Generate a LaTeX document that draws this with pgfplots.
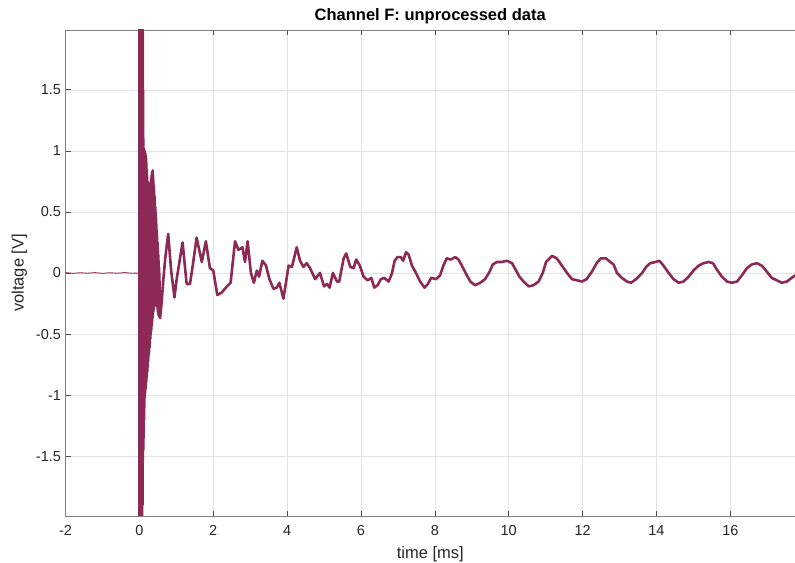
\documentclass[border=0pt]{standalone}
\usepackage{fontspec}
\setmainfont{Liberation Sans}
\usepackage{pgfplots}
\pgfplotsset{compat=1.18}
\definecolor{trace}{RGB}{140,41,84}
\definecolor{axgray}{RGB}{128,128,128}
\definecolor{txt}{RGB}{38,38,38}
\begin{document}
\begin{tikzpicture}
\begin{axis}[
  name=ax,
  width=729.5pt, height=486pt, scale only axis,
  xmin=-2, xmax=17.75, ymin=-1.99, ymax=1.99,
  xtick={-2,0,2,4,6,8,10,12,14,16},
  ytick={-1.5,-1,-0.5,0,0.5,1,1.5},
  axis y line*=left,
  axis x line*=box,
  xtick pos=both,
  grid=major,
  major grid style={draw=black!11, line width=0.6pt},
  tick align=inside,
  major tick length=5pt,
  axis line style={draw=axgray, line width=0.7pt},
  every tick/.style={draw=black!70, line width=0.7pt},
  tick label style={font=\fontsize{14.5}{15}\selectfont, text=txt},
  xticklabel style={yshift=-6pt},
  yticklabel style={xshift=-1pt},
  /pgf/number format/assume math mode=true,
  xlabel={time [ms]}, ylabel={voltage [V]},
  label style={font=\fontsize{16.5}{17}\selectfont, text=txt},
  xlabel style={yshift=-4pt},
  ylabel style={yshift=2pt},
  title={Channel F: unprocessed data},
  title style={font=\bfseries\fontsize{16.5}{17}\selectfont, yshift=-3pt},
  clip=true,
]
% pre-trigger baseline
\addplot[trace, line width=0.9pt] coordinates {
(-2.0,0.003) (-1.8,-0.003) (-1.6,0.002) (-1.4,-0.002) (-1.2,0.003) (-1.0,-0.003)
(-0.8,0.002) (-0.6,-0.002) (-0.4,0.003) (-0.2,-0.002) (0.0,0.0)
};
% main trace
\addplot[trace, line width=2.6pt, line join=round] coordinates {
(0.000,2.5) (0.005,-2.5) (0.010,2.5) (0.015,-2.5) (0.020,2.5) (0.025,-2.5) (0.030,2.5) (0.035,-2.5)
(0.040,2.5) (0.045,-2.5) (0.050,2.5) (0.055,-2.5) (0.060,2.5) (0.065,-2.5) (0.070,2.5) (0.075,-2.5)
(0.080,2.3) (0.085,-1.9) (0.090,2.0) (0.095,-1.55) (0.100,1.5) (0.105,-1.45) (0.110,1.1) (0.115,-1.35)
(0.12,1.02) (0.125,-1.2) (0.13,1.01) (0.135,-1.1) (0.14,1.00) (0.145,-1.02) (0.15,0.99) (0.155,-0.98)
(0.16,0.98) (0.165,-0.95) (0.17,0.96) (0.175,-0.92) (0.18,0.94) (0.185,-0.89) (0.19,0.90) (0.195,-0.86)
(0.20,0.85) (0.205,-0.84) (0.21,0.80) (0.215,-0.81) (0.22,0.75) (0.225,-0.77) (0.23,0.72) (0.235,-0.73)
(0.24,0.69) (0.245,-0.70) (0.25,0.70) (0.255,-0.67) (0.26,0.72) (0.265,-0.64) (0.27,0.69) (0.275,-0.61)
(0.28,0.66) (0.285,-0.58) (0.29,0.70) (0.295,-0.54) (0.30,0.74) (0.305,-0.51) (0.31,0.76) (0.315,-0.48)
(0.32,0.78) (0.325,-0.46) (0.33,0.80) (0.335,-0.43) (0.34,0.82) (0.345,-0.40) (0.35,0.83) (0.355,-0.37)
(0.36,0.84) (0.365,-0.34) (0.37,0.80) (0.375,-0.32) (0.38,0.76) (0.385,-0.30) (0.39,0.72) (0.395,-0.28)
(0.40,0.68) (0.405,-0.27) (0.41,0.63) (0.415,-0.25) (0.42,0.58) (0.425,-0.23) (0.43,0.54) (0.435,-0.22)
(0.44,0.50) (0.445,-0.22) (0.45,0.45) (0.455,-0.23) (0.46,0.40) (0.465,-0.24) (0.47,0.35) (0.475,-0.26)
(0.48,0.30) (0.485,-0.28) (0.49,0.25) (0.495,-0.30) (0.50,0.20) (0.505,-0.32) (0.51,0.15) (0.515,-0.34)
(0.52,0.10) (0.525,-0.35) (0.53,0.05) (0.535,-0.36) (0.54,0.0) (0.56,-0.37)
(0.60,-0.25) (0.65,-0.05) (0.70,0.12) (0.78,0.32) (0.86,0.02) (0.95,-0.20) (1.01,-0.05)
(1.17,0.25) (1.28,-0.09) (1.37,-0.09) (1.44,0.05) (1.55,0.29) (1.69,0.09) (1.80,0.26)
(1.91,0.04) (2.00,0.02) (2.11,-0.18) (2.23,-0.16) (2.37,-0.11) (2.47,-0.08) (2.59,0.26)
(2.68,0.19) (2.79,0.21) (2.86,0.09) (2.93,0.26) (3.02,0.00) (3.10,-0.08) (3.18,0.02)
(3.24,-0.03) (3.33,0.10) (3.43,0.06) (3.52,-0.05) (3.63,-0.13) (3.72,-0.12) (3.79,-0.08)
(3.90,-0.21) (4.04,0.06) (4.13,0.05) (4.26,0.21) (4.35,0.10) (4.44,0.05) (4.53,0.08)
(4.62,0.04) (4.76,-0.05) (4.89,0.00) (5.00,-0.11) (5.08,-0.09) (5.15,-0.12) (5.24,0.00)
(5.35,-0.07) (5.41,-0.07) (5.53,0.12) (5.60,0.16) (5.71,0.05) (5.80,0.04) (5.87,0.11)
(5.97,0.06) (6.07,-0.03) (6.18,-0.06) (6.28,-0.04) (6.36,-0.12) (6.45,-0.10) (6.54,-0.05)
(6.63,-0.04) (6.75,-0.07) (6.84,0.00) (6.91,0.10) (6.99,0.13) (7.08,0.13) (7.14,0.10)
(7.22,0.17) (7.29,0.15) (7.38,0.06) (7.49,0.00) (7.60,-0.07) (7.72,-0.12) (7.81,-0.09)
(7.90,-0.04) (8.03,-0.05) (8.14,-0.02) (8.23,0.06) (8.32,0.12) (8.43,0.11) (8.55,0.13)
(8.64,0.11) (8.73,0.06) (8.85,-0.01) (8.96,-0.07) (9.09,-0.10) (9.23,-0.08) (9.36,-0.05)
(9.48,0.01) (9.57,0.07) (9.68,0.09) (9.81,0.09) (9.95,0.10) (10.09,0.08) (10.18,0.03)
(10.29,-0.03) (10.40,-0.07) (10.54,-0.11) (10.67,-0.10) (10.81,-0.07) (10.92,0.00)
(11.01,0.09) (11.17,0.14) (11.30,0.12) (11.44,0.06) (11.58,0.00) (11.71,-0.05)
(11.85,-0.06) (11.98,-0.07) (12.11,-0.05) (12.25,0.01) (12.38,0.08) (12.49,0.12)
(12.63,0.12) (12.75,0.09) (12.84,0.07) (12.93,0.00) (13.06,-0.04) (13.20,-0.07)
(13.31,-0.08) (13.45,-0.05) (13.61,0.00) (13.72,0.05) (13.83,0.08) (13.97,0.09)
(14.08,0.10) (14.19,0.06) (14.33,0.00) (14.46,-0.05) (14.60,-0.08) (14.73,-0.07)
(14.87,-0.03) (15.00,0.02) (15.14,0.06) (15.27,0.08) (15.41,0.09) (15.53,0.08)
(15.63,0.03) (15.77,-0.03) (15.91,-0.07) (16.04,-0.08) (16.18,-0.07) (16.31,-0.02)
(16.45,0.04) (16.58,0.07) (16.72,0.08) (16.85,0.06) (16.99,0.01) (17.12,-0.04)
(17.26,-0.06) (17.39,-0.08) (17.53,-0.07) (17.66,-0.04) (17.80,-0.01)
};
\end{axis}
\pgfresetboundingbox
\useasboundingbox ([xshift=-65.5pt,yshift=-47pt]ax.south west) rectangle ([yshift=30pt]ax.north east);
\end{tikzpicture}
\end{document}
